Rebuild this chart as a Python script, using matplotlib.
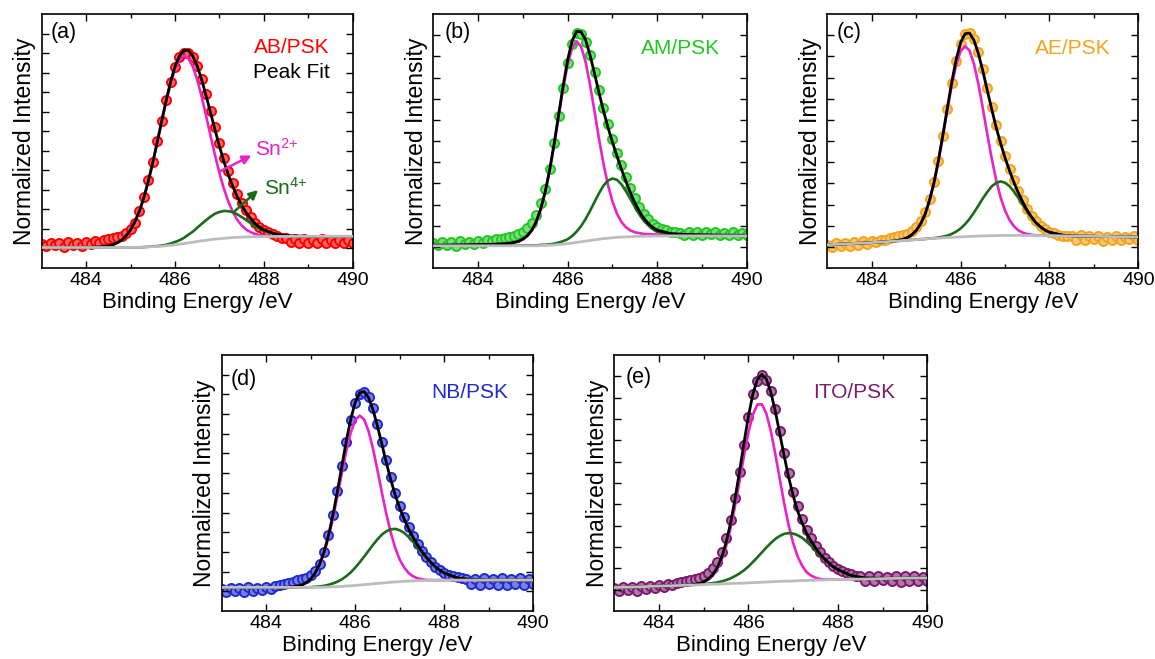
import matplotlib
matplotlib.use("Agg")
import matplotlib.pyplot as plt

plt.rcParams['font.family'] = ['Liberation Sans', 'DejaVu Sans']
plt.rcParams['mathtext.fontset'] = 'custom'
plt.rcParams['mathtext.rm'] = 'Liberation Sans'
plt.rcParams['mathtext.it'] = 'Liberation Sans'
plt.rcParams['mathtext.default'] = 'regular'

# ---------------- data ----------------
E_DATA = [483.0, 483.1, 483.2, 483.3, 483.4, 483.5, 483.6, 483.7, 483.8, 483.9,
          484.0, 484.1, 484.2, 484.3, 484.4, 484.5, 484.6, 484.7, 484.8, 484.9,
          485.0, 485.1, 485.2, 485.3, 485.4, 485.5, 485.6, 485.7, 485.8, 485.9,
          486.0, 486.1, 486.2, 486.3, 486.4, 486.5, 486.6, 486.7, 486.8, 486.9,
          487.0, 487.1, 487.2, 487.3, 487.4, 487.5, 487.6, 487.7, 487.8, 487.9,
          488.0, 488.1, 488.2, 488.3, 488.4, 488.5, 488.6, 488.7, 488.8, 488.9,
          489.0, 489.1, 489.2, 489.3, 489.4, 489.5, 489.6, 489.7, 489.8, 489.9,
          490.0]

FIT_E = [483.0, 483.5, 484.0, 484.3, 484.5, 484.6, 484.7, 484.8, 484.9, 485.0,
         485.1, 485.2, 485.3, 485.4, 485.5, 485.6, 485.7, 485.8, 485.9, 486.0,
         486.1, 486.2, 486.3, 486.4, 486.5, 486.6, 486.7, 486.8, 486.9, 487.0,
         487.1, 487.2, 487.3, 487.4, 487.5, 487.6, 487.7, 487.8, 487.9, 488.0,
         488.3, 488.6, 489.0, 489.5, 490.0]

# (a) AB/PSK
DATA_A = [0.022, 0.012, 0.030, 0.016, 0.026, 0.008, 0.032, 0.018, 0.028, 0.014,
          0.034, 0.022, 0.037, 0.030, 0.042, 0.047, 0.053, 0.059, 0.066, 0.079,
          0.098, 0.13, 0.19, 0.265, 0.35, 0.445, 0.55, 0.655, 0.76, 0.85,
          0.93, 0.98, 1.0, 1.0, 0.98, 0.935, 0.87, 0.79, 0.705, 0.62,
          0.54, 0.465, 0.395, 0.335, 0.28, 0.235, 0.195, 0.16, 0.13, 0.11,
          0.095, 0.082, 0.072, 0.062, 0.055, 0.052, 0.034, 0.049, 0.030, 0.047,
          0.028, 0.045, 0.030, 0.046, 0.026, 0.043, 0.029, 0.044, 0.026, 0.041,
          0.030]
BG_A = [0.005, 0.005, 0.005, 0.005, 0.005, 0.005, 0.005, 0.005, 0.005, 0.005,
        0.006, 0.006, 0.007, 0.008, 0.009, 0.010, 0.012, 0.014, 0.016, 0.019,
        0.022, 0.025, 0.029, 0.032, 0.036, 0.039, 0.042, 0.045, 0.048, 0.050,
        0.052, 0.054, 0.056, 0.057, 0.058, 0.059, 0.060, 0.060, 0.061, 0.061,
        0.062, 0.062, 0.062, 0.062, 0.062]
SN2_A = [0.005, 0.005, 0.005, 0.008, 0.013, 0.019, 0.029, 0.043, 0.065, 0.095,
         0.138, 0.192, 0.261, 0.344, 0.439, 0.542, 0.649, 0.752, 0.844, 0.918,
         0.966, 0.985, 0.973, 0.931, 0.864, 0.777, 0.679, 0.577, 0.478, 0.386,
         0.306, 0.240, 0.188, 0.147, 0.118, 0.097, 0.084, 0.074, 0.069, 0.066,
         0.062, 0.062, 0.062, 0.062, 0.062]
SN4_A = [0.005, 0.005, 0.005, 0.005, 0.005, 0.005, 0.005, 0.005, 0.005, 0.005,
         0.006, 0.006, 0.007, 0.009, 0.010, 0.012, 0.015, 0.019, 0.025, 0.033,
         0.042, 0.054, 0.070, 0.086, 0.106, 0.126, 0.145, 0.163, 0.178, 0.187,
         0.192, 0.191, 0.186, 0.175, 0.161, 0.146, 0.130, 0.114, 0.102, 0.090,
         0.071, 0.064, 0.062, 0.062, 0.062]
ENV_A = [0.005, 0.005, 0.005, 0.008, 0.013, 0.019, 0.029, 0.043, 0.065, 0.095,
         0.138, 0.192, 0.261, 0.345, 0.440, 0.544, 0.652, 0.757, 0.853, 0.932,
         0.986, 1.014, 1.014, 0.985, 0.934, 0.864, 0.782, 0.695, 0.608, 0.523,
         0.446, 0.377, 0.318, 0.265, 0.221, 0.184, 0.154, 0.128, 0.110, 0.095,
         0.071, 0.064, 0.062, 0.062, 0.062]

# (b) AM/PSK
DATA_B = [0.018, 0.008, 0.024, 0.010, 0.022, 0.005, 0.026, 0.012, 0.023, 0.014,
          0.028, 0.019, 0.031, 0.028, 0.035, 0.038, 0.042, 0.047, 0.053, 0.060,
          0.072, 0.090, 0.115, 0.150, 0.205, 0.275, 0.37, 0.49, 0.62, 0.75,
          0.87, 0.96, 1.01, 1.005, 0.97, 0.905, 0.825, 0.74, 0.655, 0.58,
          0.51, 0.445, 0.385, 0.33, 0.28, 0.23, 0.19, 0.155, 0.13, 0.11,
          0.095, 0.085, 0.078, 0.072, 0.068, 0.066, 0.056, 0.070, 0.058, 0.072,
          0.055, 0.068, 0.059, 0.071, 0.054, 0.066, 0.058, 0.069, 0.056, 0.065,
          0.058]
BG_B = [0.005, 0.005, 0.005, 0.005, 0.005, 0.005, 0.005, 0.005, 0.005, 0.005,
        0.005, 0.005, 0.005, 0.006, 0.007, 0.008, 0.009, 0.011, 0.013, 0.015,
        0.018, 0.021, 0.024, 0.027, 0.030, 0.033, 0.036, 0.039, 0.041, 0.043,
        0.045, 0.046, 0.047, 0.048, 0.049, 0.050, 0.050, 0.051, 0.051, 0.051,
        0.052, 0.052, 0.052, 0.052, 0.052]
SN2_B = [0.007, 0.008, 0.010, 0.011, 0.013, 0.014, 0.016, 0.020, 0.025, 0.035,
         0.051, 0.077, 0.118, 0.178, 0.259, 0.362, 0.484, 0.618, 0.749, 0.862,
         0.941, 0.971, 0.947, 0.874, 0.766, 0.640, 0.511, 0.393, 0.293, 0.215,
         0.158, 0.118, 0.093, 0.078, 0.069, 0.065, 0.061, 0.060, 0.059, 0.058,
         0.057, 0.056, 0.055, 0.054, 0.054]
SN4_B = [0.006, 0.006, 0.006, 0.006, 0.006, 0.006, 0.006, 0.006, 0.006, 0.007,
         0.007, 0.007, 0.007, 0.009, 0.010, 0.012, 0.015, 0.020, 0.027, 0.036,
         0.051, 0.072, 0.098, 0.131, 0.170, 0.212, 0.253, 0.289, 0.313, 0.323,
         0.317, 0.296, 0.264, 0.227, 0.189, 0.154, 0.124, 0.102, 0.084, 0.072,
         0.058, 0.055, 0.054, 0.053, 0.053]
ENV_B = [0.008, 0.009, 0.011, 0.012, 0.014, 0.015, 0.017, 0.021, 0.026, 0.037,
         0.053, 0.079, 0.120, 0.181, 0.262, 0.366, 0.490, 0.627, 0.763, 0.883,
         0.974, 1.018, 1.016, 0.978, 0.906, 0.819, 0.728, 0.643, 0.565, 0.495,
         0.430, 0.368, 0.310, 0.257, 0.209, 0.169, 0.135, 0.111, 0.092, 0.079,
         0.063, 0.059, 0.057, 0.055, 0.055]

# (c) AE/PSK
DATA_C = [0.010, 0.000, 0.018, 0.004, 0.020, 0.006, 0.022, 0.010, 0.026, 0.014,
          0.030, 0.022, 0.034, 0.034, 0.040, 0.045, 0.050, 0.056, 0.063, 0.075,
          0.092, 0.12, 0.165, 0.225, 0.305, 0.405, 0.525, 0.65, 0.775, 0.88,
          0.96, 1.005, 1.01, 0.98, 0.92, 0.84, 0.75, 0.66, 0.575, 0.5,
          0.43, 0.37, 0.315, 0.265, 0.22, 0.18, 0.148, 0.12, 0.1, 0.085,
          0.072, 0.064, 0.058, 0.052, 0.050, 0.050, 0.034, 0.054, 0.032, 0.050,
          0.036, 0.053, 0.030, 0.048, 0.034, 0.052, 0.031, 0.047, 0.035, 0.050,
          0.033]
BG_C = [0.010, 0.015, 0.020, 0.024, 0.027, 0.028, 0.030, 0.031, 0.033, 0.034,
        0.036, 0.037, 0.039, 0.040, 0.041, 0.043, 0.044, 0.045, 0.046, 0.047,
        0.048, 0.049, 0.050, 0.051, 0.052, 0.052, 0.053, 0.053, 0.054, 0.054,
        0.054, 0.054, 0.054, 0.054, 0.054, 0.054, 0.053, 0.053, 0.053, 0.053,
        0.052, 0.051, 0.050, 0.048, 0.047]
SN2_C = [0.010, 0.015, 0.020, 0.024, 0.028, 0.031, 0.036, 0.044, 0.057, 0.077,
         0.109, 0.154, 0.219, 0.302, 0.405, 0.523, 0.646, 0.763, 0.860, 0.925,
         0.948, 0.927, 0.864, 0.769, 0.654, 0.532, 0.417, 0.315, 0.234, 0.171,
         0.127, 0.097, 0.078, 0.067, 0.060, 0.057, 0.054, 0.054, 0.053, 0.053,
         0.052, 0.051, 0.050, 0.048, 0.047]
SN4_C = [0.010, 0.015, 0.020, 0.024, 0.027, 0.028, 0.030, 0.031, 0.033, 0.034,
         0.036, 0.037, 0.040, 0.041, 0.044, 0.048, 0.053, 0.061, 0.072, 0.087,
         0.107, 0.132, 0.162, 0.195, 0.229, 0.259, 0.286, 0.302, 0.309, 0.303,
         0.287, 0.261, 0.231, 0.198, 0.166, 0.137, 0.112, 0.093, 0.079, 0.069,
         0.055, 0.051, 0.050, 0.048, 0.047]
ENV_C = [0.010, 0.015, 0.020, 0.024, 0.028, 0.031, 0.036, 0.044, 0.057, 0.077,
         0.109, 0.154, 0.220, 0.303, 0.408, 0.528, 0.655, 0.779, 0.886, 0.965,
         1.007, 1.010, 0.976, 0.913, 0.831, 0.739, 0.650, 0.564, 0.489, 0.420,
         0.360, 0.304, 0.255, 0.211, 0.172, 0.140, 0.113, 0.094, 0.079, 0.069,
         0.055, 0.051, 0.050, 0.048, 0.047]

# (d) NB/PSK
DATA_D = [0.012, -0.002, 0.018, 0.002, 0.016, -0.004, 0.020, 0.004, 0.018, 0.008,
          0.024, 0.014, 0.027, 0.030, 0.036, 0.042, 0.048, 0.055, 0.062, 0.070,
          0.082, 0.105, 0.14, 0.2, 0.285, 0.39, 0.51, 0.635, 0.76, 0.87,
          0.955, 1.0, 1.01, 0.985, 0.93, 0.85, 0.76, 0.665, 0.58, 0.5,
          0.435, 0.375, 0.325, 0.28, 0.24, 0.205, 0.175, 0.15, 0.125, 0.11,
          0.095, 0.085, 0.078, 0.072, 0.068, 0.065, 0.036, 0.064, 0.032, 0.067,
          0.038, 0.062, 0.033, 0.066, 0.030, 0.064, 0.036, 0.068, 0.032, 0.062,
          0.038]
BG_D = [0.020, 0.020, 0.020, 0.020, 0.020, 0.020, 0.020, 0.020, 0.020, 0.020,
        0.020, 0.021, 0.021, 0.022, 0.023, 0.024, 0.025, 0.027, 0.028, 0.030,
        0.032, 0.034, 0.036, 0.038, 0.040, 0.042, 0.044, 0.046, 0.048, 0.049,
        0.051, 0.052, 0.053, 0.054, 0.055, 0.055, 0.056, 0.056, 0.057, 0.057,
        0.057, 0.057, 0.057, 0.057, 0.057]
SN2_D = [0.020, 0.020, 0.020, 0.020, 0.021, 0.023, 0.026, 0.032, 0.043, 0.061,
         0.090, 0.133, 0.193, 0.273, 0.371, 0.483, 0.600, 0.713, 0.806, 0.869,
         0.892, 0.873, 0.814, 0.724, 0.615, 0.501, 0.392, 0.297, 0.220, 0.161,
         0.121, 0.093, 0.076, 0.066, 0.061, 0.058, 0.057, 0.057, 0.057, 0.057,
         0.057, 0.057, 0.057, 0.057, 0.057]
SN4_D = [0.020, 0.020, 0.020, 0.020, 0.020, 0.020, 0.020, 0.020, 0.021, 0.021,
         0.023, 0.025, 0.028, 0.033, 0.040, 0.049, 0.061, 0.077, 0.096, 0.120,
         0.147, 0.176, 0.206, 0.236, 0.264, 0.288, 0.305, 0.315, 0.317, 0.310,
         0.297, 0.276, 0.251, 0.224, 0.197, 0.170, 0.146, 0.124, 0.107, 0.093,
         0.068, 0.060, 0.057, 0.057, 0.057]
ENV_D = [0.020, 0.020, 0.020, 0.020, 0.021, 0.023, 0.026, 0.032, 0.044, 0.062,
         0.093, 0.137, 0.200, 0.284, 0.388, 0.508, 0.636, 0.763, 0.874, 0.959,
         1.007, 1.015, 0.984, 0.922, 0.839, 0.747, 0.653, 0.566, 0.489, 0.422,
         0.367, 0.317, 0.274, 0.236, 0.203, 0.173, 0.147, 0.125, 0.107, 0.093,
         0.068, 0.060, 0.057, 0.057, 0.057]

# (e) ITO/PSK
DATA_E = [0.006, -0.008, 0.012, -0.002, 0.014, -0.006, 0.016, 0.002, 0.018, 0.006,
          0.022, 0.012, 0.026, 0.024, 0.030, 0.036, 0.040, 0.045, 0.050, 0.056,
          0.065, 0.08, 0.10, 0.13, 0.175, 0.24, 0.325, 0.43, 0.55, 0.68,
          0.81, 0.915, 0.98, 1.005, 0.985, 0.93, 0.845, 0.745, 0.64, 0.545,
          0.46, 0.39, 0.33, 0.28, 0.24, 0.205, 0.175, 0.15, 0.13, 0.112,
          0.098, 0.088, 0.08, 0.072, 0.066, 0.062, 0.042, 0.062, 0.039, 0.066,
          0.045, 0.060, 0.041, 0.064, 0.037, 0.062, 0.043, 0.065, 0.039, 0.060,
          0.042]
BG_E = [0.010, 0.013, 0.017, 0.019, 0.020, 0.021, 0.022, 0.022, 0.023, 0.024,
        0.025, 0.026, 0.026, 0.027, 0.028, 0.029, 0.030, 0.030, 0.031, 0.032,
        0.033, 0.034, 0.035, 0.036, 0.037, 0.038, 0.039, 0.040, 0.040, 0.041,
        0.042, 0.043, 0.043, 0.044, 0.045, 0.045, 0.046, 0.047, 0.047, 0.048,
        0.049, 0.050, 0.052, 0.054, 0.055]
SN2_E = [0.010, 0.013, 0.017, 0.019, 0.020, 0.021, 0.023, 0.024, 0.028, 0.035,
         0.047, 0.065, 0.095, 0.140, 0.205, 0.289, 0.393, 0.509, 0.629, 0.738,
         0.822, 0.868, 0.869, 0.825, 0.743, 0.636, 0.518, 0.403, 0.300, 0.218,
         0.155, 0.112, 0.082, 0.066, 0.056, 0.050, 0.048, 0.048, 0.047, 0.048,
         0.049, 0.050, 0.052, 0.054, 0.055]
SN4_E = [0.010, 0.013, 0.017, 0.019, 0.020, 0.021, 0.022, 0.023, 0.024, 0.026,
         0.028, 0.031, 0.034, 0.039, 0.045, 0.053, 0.064, 0.076, 0.091, 0.109,
         0.130, 0.152, 0.175, 0.198, 0.219, 0.238, 0.252, 0.262, 0.265, 0.263,
         0.255, 0.243, 0.225, 0.206, 0.185, 0.163, 0.143, 0.124, 0.107, 0.094,
         0.066, 0.055, 0.053, 0.054, 0.055]
ENV_E = [0.010, 0.013, 0.017, 0.019, 0.020, 0.021, 0.023, 0.025, 0.029, 0.037,
         0.050, 0.070, 0.103, 0.152, 0.222, 0.313, 0.427, 0.555, 0.689, 0.815,
         0.919, 0.986, 1.009, 0.987, 0.925, 0.836, 0.731, 0.625, 0.525, 0.440,
         0.368, 0.312, 0.264, 0.228, 0.196, 0.168, 0.145, 0.125, 0.107, 0.094,
         0.066, 0.055, 0.053, 0.054, 0.055]

SAMPLES = ['AB/PSK', 'AM/PSK', 'AE/PSK', 'NB/PSK', 'ITO/PSK']
PANEL_TAGS = ['(a)', '(b)', '(c)', '(d)', '(e)']
X_TICKS = [484, 486, 488, 490]
X_MINOR = [485, 487, 489]

# ---------------- style ----------------
COLORS = ['#FF0000', '#22C822', '#F4A41C', '#1F2BD0', '#7B1A6E']
MAGENTA = '#E823C8'
DKGREEN = '#1A6B1A'
GRAY = '#BDBDBD'

RECTS = [[0.0361, 0.5933, 0.2693, 0.3854],
         [0.3752, 0.5933, 0.2713, 0.3854],
         [0.7163, 0.5933, 0.2693, 0.3854],
         [0.1919, 0.0728, 0.2698, 0.3885],
         [0.5319, 0.0728, 0.2710, 0.3885]]
YTOPS = [1.2, 1.1, 1.1, 1.2, 1.1]
NAME_POS = [(0.925, 0.87), (0.915, 0.866), (0.91, 0.866), (0.92, 0.855), (0.898, 0.855)]
TAG_POS = [(0.028, 0.97), (0.036, 0.97), (0.030, 0.97), (0.030, 0.945), (0.036, 0.955)]

panels = [
    (DATA_A, BG_A, SN2_A, SN4_A, ENV_A),
    (DATA_B, BG_B, SN2_B, SN4_B, ENV_B),
    (DATA_C, BG_C, SN2_C, SN4_C, ENV_C),
    (DATA_D, BG_D, SN2_D, SN4_D, ENV_D),
    (DATA_E, BG_E, SN2_E, SN4_E, ENV_E),
]


def lighten(hexcol, f):
    r, g, b = matplotlib.colors.to_rgb(hexcol)
    return (r + (1 - r) * f, g + (1 - g) * f, b + (1 - b) * f)


fig = plt.figure(figsize=(11.55, 6.59), dpi=100)

for i, (data, bg, sn2, sn4, env) in enumerate(panels):
    ax = fig.add_axes(RECTS[i])
    col = COLORS[i]
    ax.plot(E_DATA, data, linestyle='none', marker='o', markersize=6.5,
            markerfacecolor=lighten(col, 0.4), markeredgecolor=col,
            markeredgewidth=1.4, zorder=1)
    ax.plot(FIT_E, sn2, color=MAGENTA, lw=1.9, zorder=2)
    ax.plot(FIT_E, sn4, color=DKGREEN, lw=1.9, zorder=3)
    ax.plot(FIT_E, env, color='black', lw=2.0, zorder=4)
    ax.plot(FIT_E, bg, color=GRAY, lw=2.0, zorder=5)

    ax.set_xlim(483, 490)
    ax.set_ylim(-0.1, YTOPS[i])
    ax.set_xticks(X_TICKS)
    ax.set_xticks(X_MINOR, minor=True)
    nt = int(round(YTOPS[i] * 10))
    ax.set_yticks([k / 10 for k in range(nt)])
    ax.tick_params(which='both', direction='in', top=True, right=True,
                   labelleft=False, labelsize=14, pad=3, width=1.0)
    ax.tick_params(which='major', length=5)
    ax.tick_params(which='minor', length=3)
    for sp in ax.spines.values():
        sp.set_linewidth(1.2)

    ax.set_xlabel('Binding Energy /eV', fontsize=16, labelpad=2)
    ax.set_ylabel('Normalized Intensity', fontsize=16.5, labelpad=4)

    ax.text(TAG_POS[i][0], TAG_POS[i][1], PANEL_TAGS[i], transform=ax.transAxes,
            ha='left', va='top', fontsize=15.5)
    ax.text(NAME_POS[i][0], NAME_POS[i][1], SAMPLES[i], transform=ax.transAxes,
            ha='right', va='center', fontsize=15, color=col)

    if i == 0:
        ax.text(0.925, 0.768, 'Peak Fit', transform=ax.transAxes,
                ha='right', va='center', fontsize=15, color='black')
        ax.annotate('', xy=(487.72, 0.476), xytext=(487.02, 0.396),
                    arrowprops=dict(arrowstyle='-|>', color=MAGENTA, lw=1.8,
                                    mutation_scale=13, shrinkA=0, shrinkB=0),
                    zorder=6)
        ax.text(487.79, 0.51, r'Sn$^{2{+}}$', color=MAGENTA,
                fontsize=15, ha='left', va='center')
        ax.annotate('', xy=(487.87, 0.299), xytext=(487.31, 0.184),
                    arrowprops=dict(arrowstyle='-|>', color=DKGREEN, lw=1.8,
                                    mutation_scale=13, shrinkA=0, shrinkB=0),
                    zorder=6)
        ax.text(488.0, 0.31, r'Sn$^{4{+}}$', color=DKGREEN,
                fontsize=15, ha='left', va='center')

fig.savefig('out.png', dpi=100)
